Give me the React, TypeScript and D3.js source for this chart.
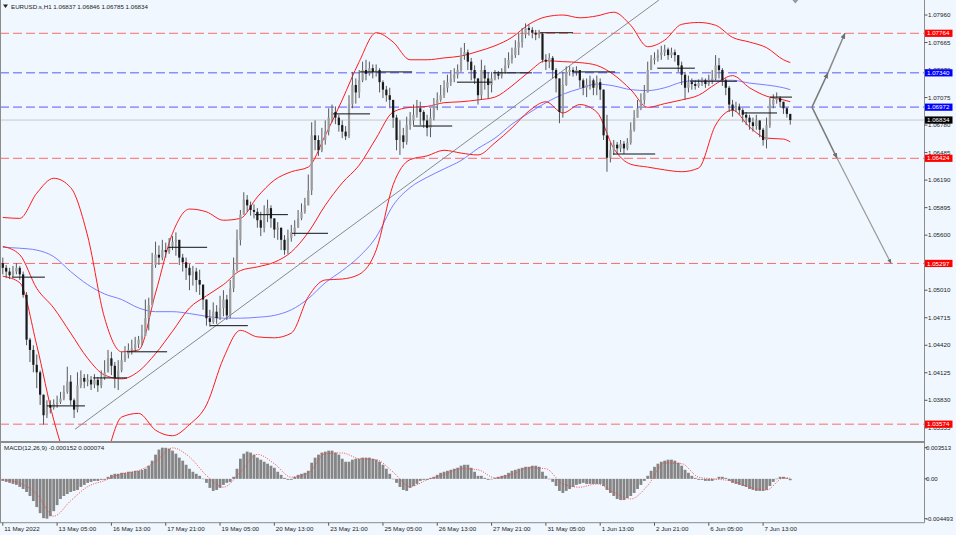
import React from 'react';
import * as d3 from 'd3';

// ---- chart values (H1 bars, two bars per candle) ----
const closes = [
  1.0525, 1.0521, 1.0517, 1.0521, 1.0525, 1.0518, 1.0496, 1.0448, 1.0437, 1.0421,
  1.0413, 1.0389, 1.0367, 1.0378, 1.0375, 1.0379, 1.0381, 1.0385, 1.0392, 1.0403,
  1.0383, 1.0373, 1.0399, 1.0407, 1.0403, 1.0405, 1.0400, 1.0405, 1.0399, 1.0407,
  1.0413, 1.0428, 1.0420, 1.0407, 1.0415, 1.0426, 1.0432, 1.0437, 1.0439, 1.0443,
  1.0448, 1.0452, 1.0471, 1.0485, 1.0528, 1.0539, 1.0536, 1.0544, 1.0542, 1.0548,
  1.0553, 1.0555, 1.0536, 1.0531, 1.0525, 1.0517, 1.0521, 1.0512, 1.0507, 1.0491,
  1.0471, 1.0467, 1.0478, 1.0471, 1.0482, 1.0491, 1.0474, 1.0503, 1.0523, 1.0555,
  1.0582, 1.0598, 1.0592, 1.0587, 1.0585, 1.0576, 1.0568, 1.0582, 1.0589, 1.0578,
  1.0566, 1.0568, 1.0555, 1.0544, 1.0557, 1.0563, 1.0568, 1.0578, 1.0585, 1.0592,
  1.0608, 1.0667, 1.0662, 1.0651, 1.0662, 1.0671, 1.0686, 1.0692, 1.0686, 1.0678,
  1.0671, 1.0666, 1.0700, 1.0721, 1.0713, 1.0726, 1.0737, 1.0733, 1.0739, 1.0735,
  1.0737, 1.0724, 1.0716, 1.0710, 1.0705, 1.0686, 1.0662, 1.0667, 1.0660, 1.0678,
  1.0683, 1.0689, 1.0696, 1.0692, 1.0683, 1.0675, 1.0686, 1.0700, 1.0705, 1.0710,
  1.0718, 1.0724, 1.0728, 1.0732, 1.0737, 1.0753, 1.0756, 1.0746, 1.0737, 1.0728,
  1.0710, 1.0737, 1.0728, 1.0721, 1.0728, 1.0733, 1.0731, 1.0735, 1.0742, 1.0748,
  1.0753, 1.0761, 1.0767, 1.0775, 1.0782, 1.0780, 1.0777, 1.0775, 1.0776, 1.0748,
  1.0746, 1.0750, 1.0737, 1.0728, 1.0692, 1.0721, 1.0735, 1.0737, 1.0735, 1.0737,
  1.0726, 1.0718, 1.0721, 1.0726, 1.0718, 1.0724, 1.0716, 1.0667, 1.0643, 1.0651,
  1.0657, 1.0653, 1.0658, 1.0653, 1.0659, 1.0673, 1.0686, 1.0696, 1.0705, 1.0713,
  1.0737, 1.0748, 1.0750, 1.0753, 1.0756, 1.0759, 1.0753, 1.0756, 1.0753, 1.0742,
  1.0732, 1.0718, 1.0724, 1.0722, 1.0720, 1.0723, 1.0726, 1.0722, 1.0726, 1.0728,
  1.0742, 1.0737, 1.0726, 1.0718, 1.0700, 1.0694, 1.0698, 1.0694, 1.0689, 1.0686,
  1.0681, 1.0677, 1.0683, 1.0673, 1.0662, 1.0678, 1.0700, 1.0705, 1.0707, 1.0703,
  1.0696, 1.0690, 1.06834,
];
const highs = [
  1.0536, 1.0528, 1.0525, 1.0527, 1.0530, 1.0527, 1.0521, 1.0499, 1.0450, 1.0442,
  1.0432, 1.0415, 1.0389, 1.0383, 1.0383, 1.0384, 1.0388, 1.0392, 1.0399, 1.0419,
  1.0410, 1.0385, 1.0413, 1.0415, 1.0411, 1.0411, 1.0409, 1.0411, 1.0408, 1.0415,
  1.0426, 1.0437, 1.0435, 1.0424, 1.0426, 1.0435, 1.0441, 1.0444, 1.0448, 1.0451,
  1.0452, 1.0464, 1.0491, 1.0493, 1.0541, 1.0553, 1.0549, 1.0555, 1.0552, 1.0557,
  1.0559, 1.0563, 1.0555, 1.0540, 1.0536, 1.0529, 1.0527, 1.0525, 1.0523, 1.0507,
  1.0491, 1.0480, 1.0488, 1.0485, 1.0495, 1.0501, 1.0496, 1.0512, 1.0536, 1.0566,
  1.0587, 1.0606, 1.0603, 1.0596, 1.0593, 1.0589, 1.0585, 1.0592, 1.0598, 1.0592,
  1.0578, 1.0574, 1.0568, 1.0560, 1.0566, 1.0571, 1.0576, 1.0587, 1.0594, 1.0600,
  1.0625, 1.0681, 1.0683, 1.0667, 1.0675, 1.0683, 1.0696, 1.0700, 1.0698, 1.0689,
  1.0683, 1.0677, 1.0710, 1.0735, 1.0728, 1.0737, 1.0746, 1.0748, 1.0746, 1.0743,
  1.0743, 1.0739, 1.0726, 1.0720, 1.0718, 1.0705, 1.0689, 1.0683, 1.0675, 1.0687,
  1.0692, 1.0700, 1.0705, 1.0703, 1.0694, 1.0689, 1.0696, 1.0707, 1.0713, 1.0721,
  1.0726, 1.0732, 1.0737, 1.0739, 1.0743, 1.0761, 1.0766, 1.0759, 1.0750, 1.0742,
  1.0726, 1.0748, 1.0742, 1.0735, 1.0735, 1.0737, 1.0736, 1.0739, 1.0750, 1.0756,
  1.0761, 1.0769, 1.0777, 1.0782, 1.0787, 1.0786, 1.0783, 1.0780, 1.0780, 1.0777,
  1.0754, 1.0755, 1.0752, 1.0739, 1.0724, 1.0735, 1.0741, 1.0741, 1.0740, 1.0741,
  1.0737, 1.0728, 1.0728, 1.0731, 1.0728, 1.0731, 1.0728, 1.0710, 1.0689, 1.0659,
  1.0662, 1.0660, 1.0662, 1.0661, 1.0664, 1.0681, 1.0694, 1.0705, 1.0712, 1.0721,
  1.0746, 1.0753, 1.0756, 1.0759, 1.0763, 1.0764, 1.0761, 1.0761, 1.0759, 1.0753,
  1.0746, 1.0735, 1.0731, 1.0728, 1.0726, 1.0727, 1.0729, 1.0728, 1.0732, 1.0737,
  1.0753, 1.0750, 1.0739, 1.0728, 1.0720, 1.0705, 1.0703, 1.0701, 1.0696, 1.0692,
  1.0689, 1.0686, 1.0689, 1.0683, 1.0675, 1.0686, 1.0707, 1.0711, 1.0713, 1.0709,
  1.0703, 1.0697, 1.06846,
];
const lows = [
  1.0518, 1.0514, 1.0513, 1.0515, 1.0518, 1.0512, 1.0493, 1.0442, 1.0424, 1.0413,
  1.0396, 1.0378, 1.0357, 1.0364, 1.0369, 1.0373, 1.0375, 1.0379, 1.0383, 1.0390,
  1.0378, 1.0364, 1.0370, 1.0396, 1.0396, 1.0398, 1.0394, 1.0396, 1.0392, 1.0396,
  1.0405, 1.0413, 1.0410, 1.0396, 1.0394, 1.0413, 1.0424, 1.0428, 1.0432, 1.0435,
  1.0439, 1.0442, 1.0454, 1.0458, 1.0485, 1.0525, 1.0528, 1.0533, 1.0536, 1.0540,
  1.0544, 1.0538, 1.0528, 1.0521, 1.0512, 1.0501, 1.0506, 1.0499, 1.0496, 1.0480,
  1.0463, 1.0462, 1.0465, 1.0465, 1.0469, 1.0473, 1.0469, 1.0471, 1.0499, 1.0521,
  1.0549, 1.0582, 1.0585, 1.0581, 1.0578, 1.0568, 1.0559, 1.0563, 1.0574, 1.0568,
  1.0557, 1.0555, 1.0544, 1.0539, 1.0540, 1.0553, 1.0559, 1.0568, 1.0576, 1.0583,
  1.0592, 1.0603, 1.0651, 1.0645, 1.0649, 1.0657, 1.0667, 1.0681, 1.0679, 1.0671,
  1.0664, 1.0662, 1.0664, 1.0696, 1.0701, 1.0707, 1.0724, 1.0726, 1.0731, 1.0728,
  1.0730, 1.0713, 1.0707, 1.0703, 1.0696, 1.0675, 1.0651, 1.0646, 1.0653, 1.0657,
  1.0673, 1.0678, 1.0686, 1.0678, 1.0675, 1.0666, 1.0665, 1.0683, 1.0694, 1.0703,
  1.0707, 1.0713, 1.0720, 1.0724, 1.0728, 1.0735, 1.0748, 1.0737, 1.0726, 1.0722,
  1.0700, 1.0705, 1.0716, 1.0707, 1.0713, 1.0726, 1.0727, 1.0728, 1.0733, 1.0739,
  1.0744, 1.0750, 1.0753, 1.0761, 1.0771, 1.0774, 1.0771, 1.0769, 1.0771, 1.0745,
  1.0737, 1.0739, 1.0728, 1.0713, 1.0680, 1.0686, 1.0720, 1.0731, 1.0730, 1.0731,
  1.0718, 1.0710, 1.0708, 1.0716, 1.0710, 1.0710, 1.0705, 1.0662, 1.0628, 1.0638,
  1.0646, 1.0648, 1.0649, 1.0647, 1.0651, 1.0657, 1.0671, 1.0686, 1.0694, 1.0700,
  1.0713, 1.0737, 1.0743, 1.0746, 1.0748, 1.0752, 1.0748, 1.0750, 1.0746, 1.0735,
  1.0721, 1.0705, 1.0713, 1.0716, 1.0716, 1.0718, 1.0720, 1.0718, 1.0720, 1.0722,
  1.0726, 1.0728, 1.0720, 1.0710, 1.0692, 1.0687, 1.0692, 1.0689, 1.0681, 1.0678,
  1.0673, 1.0671, 1.0673, 1.0665, 1.0656, 1.0653, 1.0675, 1.0696, 1.0701, 1.0697,
  1.0690, 1.0686, 1.06785,
];
const firstOpen = 1.0530;

const macdHist = [
  -0.00023, -0.00034, -0.00045, -0.00057, -0.00068, -0.00091, -0.00114, -0.00148, -0.00193, -0.0025,
  -0.00318, -0.00387, -0.00443, -0.004493, -0.00421, -0.00364, -0.00296, -0.00227, -0.00193, -0.00171,
  -0.00148, -0.00136, -0.00125, -0.00091, -0.00068, -0.00045, -0.00034, -0.00023, -0.00023, -0.00011,
  -0.00011, 0.00023, 0.00045, 0.00057, 0.00057, 0.00068, 0.00068, 0.0008, 0.0008, 0.00091,
  0.00091, 0.00102, 0.00114, 0.00148, 0.00205, 0.00273, 0.0033, 0.003513, 0.0035, 0.00341,
  0.00318, 0.00284, 0.00239, 0.00205, 0.00159, 0.00114, 0.0008, 0.00057, 0.00034, 0.00002,
  -0.00045, -0.00102, -0.00136, -0.00125, -0.00102, -0.00068, -0.00045, -0.00034, 0.00023, 0.00114,
  0.00227, 0.00284, 0.00307, 0.00296, 0.00273, 0.00239, 0.00216, 0.00193, 0.00171, 0.00148,
  0.00125, 0.0008, 0.00045, 0.00011, -0.00011, -0.00011, 0.00023, 0.00045, 0.00057, 0.00068,
  0.00091, 0.00182, 0.00239, 0.00273, 0.00296, 0.00307, 0.00318, 0.00318, 0.00296, 0.00273,
  0.00227, 0.00193, 0.00193, 0.00216, 0.00227, 0.00227, 0.00239, 0.00239, 0.00239, 0.00227,
  0.00216, 0.00193, 0.00159, 0.00114, 0.00057, 0.00001, -0.00045, -0.00091, -0.00125, -0.00136,
  -0.00102, -0.0008, -0.00057, -0.00023, -0.00011, -0.00011, 0.00011, 0.00023, 0.00045, 0.00068,
  0.0008, 0.00091, 0.00102, 0.00114, 0.00125, 0.00148, 0.00159, 0.00159, 0.00125, 0.0008,
  0.00034, 0.00034, 0.00011, -0.00011, -0.00002, 0.00011, 0.00023, 0.00034, 0.00045, 0.00068,
  0.00091, 0.00102, 0.00114, 0.00125, 0.00136, 0.00136, 0.00148, 0.00148, 0.00136, 0.0008,
  0.00034, 0.00001, -0.00034, -0.0008, -0.00136, -0.00159, -0.00136, -0.00114, -0.00091, -0.00068,
  -0.00057, -0.00045, -0.00057, -0.00057, -0.00057, -0.00057, -0.00057, -0.0008, -0.00125, -0.00159,
  -0.00193, -0.00227, -0.00239, -0.00239, -0.00216, -0.00193, -0.00159, -0.00114, -0.00068, -0.00023,
  0.00034, 0.00091, 0.00136, 0.00171, 0.00193, 0.00205, 0.00216, 0.00216, 0.00205, 0.00182,
  0.00148, 0.00102, 0.00068, 0.00034, 0.00011, -0.00011, -0.00011, -0.00023, -0.00023, -0.00023,
  -0.00003, 0.00023, 0.00023, 0.00011, -0.00023, -0.00045, -0.00057, -0.00068, -0.0008, -0.00091,
  -0.00114, -0.00125, -0.00136, -0.00136, -0.00136, -0.00125, -0.0008, -0.00034, 0.00002, 0.00023,
  0.00023, 0.00011, -0.000152,
];

// indicator lines, sampled every 5 candles
const bandBars = [
  0, 5, 10, 15, 20, 25, 30, 35, 40, 45, 50, 55, 60, 65, 70, 75, 80, 85, 90, 95, 100, 105, 110, 115,
  120, 125, 130, 135, 140, 145, 150, 155, 160, 165, 170, 175, 180, 185, 190, 195, 200, 205, 210, 215,
  220, 225, 230, 232,
];
const upperBand = [
  1.0579, 1.0578, 1.0605, 1.0621, 1.0611, 1.0559, 1.0471, 1.0435, 1.0437, 1.0498, 1.0562, 1.0588,
  1.0585, 1.0576, 1.0578, 1.0601, 1.0619, 1.0628, 1.0633, 1.0667, 1.0705, 1.0746, 1.0777, 1.0767,
  1.0748, 1.0748, 1.0750, 1.0752, 1.0757, 1.0763, 1.0772, 1.0786, 1.0794, 1.0796, 1.0793, 1.0795,
  1.0799, 1.0785, 1.0762, 1.0769, 1.0786, 1.0788, 1.0785, 1.0772, 1.0767, 1.0761, 1.0748, 1.0745,
];
const midBand = [
  1.0548, 1.0539, 1.0503, 1.0482, 1.0455, 1.0428, 1.0410, 1.0406, 1.0414, 1.0433, 1.0457, 1.0482,
  1.0495, 1.0507, 1.0522, 1.0526, 1.0531, 1.0542, 1.0563, 1.0592, 1.0616, 1.0635, 1.0664, 1.0692,
  1.0697, 1.0698, 1.0702, 1.0703, 1.0705, 1.0708, 1.0720, 1.0735, 1.0747, 1.0746, 1.0745, 1.0742,
  1.0732, 1.0716, 1.0697, 1.0701, 1.0705, 1.0710, 1.0722, 1.0731, 1.0718, 1.0709, 1.0705, 1.0703,
];
const lowerBand = [
  1.0516, 1.0509, 1.0442, 1.0362, 1.0308, 1.0287, 1.0319, 1.0365, 1.0369, 1.0351, 1.0345, 1.0357,
  1.0378, 1.0428, 1.0458, 1.0451, 1.0450, 1.0455, 1.0494, 1.0512, 1.0513, 1.0518, 1.0544, 1.0614,
  1.0641, 1.0645, 1.0651, 1.0648, 1.0646, 1.0659, 1.0675, 1.0693, 1.0703, 1.0691, 1.0700, 1.0692,
  1.0653, 1.0636, 1.0633, 1.0630, 1.0628, 1.0632, 1.0678, 1.0694, 1.0676, 1.0664, 1.0663, 1.0660,
];
const maLine = [
  1.0547, 1.0546, 1.0544, 1.0537, 1.0521, 1.0507, 1.0497, 1.0491, 1.0482, 1.0478, 1.0478, 1.0476,
  1.0473, 1.0471, 1.0471, 1.0472, 1.0474, 1.0480, 1.0492, 1.0509, 1.0522, 1.0537, 1.0558, 1.0592,
  1.0611, 1.0622, 1.0631, 1.0640, 1.0653, 1.0664, 1.0679, 1.0691, 1.0702, 1.0711, 1.0717, 1.0722,
  1.0720, 1.0716, 1.0715, 1.0718, 1.0724, 1.0726, 1.0726, 1.0726, 1.0723, 1.0721, 1.0718, 1.0716,
];
const macdSignal = [
  -0.0001, -0.00049, -0.00171, -0.00421, -0.00247, -0.00088, -0.00019, 0.00057, 0.00094, 0.00193,
  0.00349, 0.00247, 0.00038, -0.00094, 0.00076, 0.00276, 0.00171, 0.00019, 0.00065, 0.00284,
  0.00292, 0.00227, 0.00216, 0.00076, -0.00088, -0.00011, 0.00049, 0.00114, 0.00102, 0.00011,
  0.00049, 0.00125, 0.00114, -0.00057, -0.00094, -0.00057, -0.00151, -0.00227, -0.00076, 0.00179,
  0.00171, 0.00019, -0.00003, -0.00026, -0.00094, -0.00125, 0.00011, 0.000074,
];

// short black level segments: [from candle, to candle, price]
const levelSegments = [
  [2.7, 12.4, 1.0515], [13, 24.2, 1.0377], [26.6, 36.6, 1.0407], [36.6, 48.4, 1.0435],
  [48.7, 60.2, 1.0547], [61, 72.2, 1.0463], [74.3, 84, 1.0582], [85.2, 95.8, 1.0562],
  [97.3, 108.2, 1.069], [105.2, 120.6, 1.0735], [120.9, 132.4, 1.0677], [133.8, 144.1, 1.0724],
  [144.4, 155.9, 1.0734], [158.3, 168, 1.0777], [168, 180.4, 1.0735], [179.8, 192.2, 1.0647],
  [192.8, 203.9, 1.0739], [202.5, 216.3, 1.0725], [218, 228.1, 1.0691], [226, 232.5, 1.0708],
];

const redLevels = [1.07764, 1.06424, 1.05297, 1.03574];
const blueLevel = 1.0734;
const pivotLevel = 1.06972;
const currentPrice = 1.06834;

const trendLine = [[21.3, 1.0352], [193.3, 1.0812]];
const upArrow = [[238.4, 1.06972], [243.1, 1.0734], [248.1, 1.07764]];
const downArrow = [[238.4, 1.06972], [245.8, 1.06424], [261.7, 1.05297]];

const priceTicks = [
  1.0796, 1.07665, 1.0737, 1.07075, 1.0678, 1.06485, 1.0619, 1.05895, 1.056, 1.05305,
  1.0501, 1.04715, 1.0442, 1.04125, 1.0383, 1.03535,
];
const macdTicks = [0.003513, 0, -0.004493];
const macdTickLabels = ['0.003513', '0.00', '-0.004493'];
const timeLabels = [
  '11 May 2022', '13 May 05:00', '16 May 13:00', '17 May 21:00', '19 May 05:00', '20 May 13:00',
  '23 May 21:00', '25 May 05:00', '26 May 13:00', '27 May 21:00', '31 May 05:00', '1 Jun 13:00',
  '2 Jun 21:00', '6 Jun 05:00', '7 Jun 13:00',
];
const timeLabelBars = [0, 16, 32, 48, 64, 80, 96, 112, 128, 144, 160, 176, 192, 208, 224];

// ---- layout ----
const W = 956;
const H = 535;
const AXIS_X = 924.5;
const MAIN_BOTTOM = 442;
const MACD_BOTTOM = 522.7;
const BG = '#F0F7FE';
const FONT = '"Liberation Sans", Arial, sans-serif';

export default function App() {
  const x = d3.scaleLinear().domain([-0.825, 271.4]).range([0, AXIS_X - 0.5]);
  const y = d3.scaleLinear().domain([1.0796, 1.0383]).range([15, 400.3]);
  const ym = d3.scaleLinear().domain([0.003513, -0.004493]).range([447.7, 518.7]);

  const sampled = (vals: number[], sy: (v: number) => number) =>
    d3.line<number>()
      .x((_, i) => x(bandBars[i]))
      .y(d => sy(d))
      .curve(d3.curveMonotoneX)(vals) || '';

  const polyline = (pts: number[][]) => d3.line<number[]>().x(p => x(p[0])).y(p => y(p[1]))(pts) || '';

  const candles = closes.map((c, i) => {
    const o = i === 0 ? firstOpen : closes[i - 1];
    const hi = Math.max(highs[i], o, c);
    const lo = Math.min(lows[i], o, c);
    const cx = x(i);
    const top = y(Math.max(o, c));
    const bot = y(Math.min(o, c));
    const bull = c >= o;
    return (
      <g key={i}>
        <line x1={cx} x2={cx} y1={y(hi)} y2={y(lo)} stroke="#585858" strokeWidth={1} />
        <rect x={cx - 1.1} width={2.2} y={top} height={Math.max(bot - top, 0.8)}
          fill={bull ? '#9c9c9c' : '#1a1a1a'} />
      </g>
    );
  });

  const boxLabel = (price: number, fill: string, key: string) => (
    <g key={key}>
      <rect x={AXIS_X + 0.5} y={y(price) - 3.6} width={27.5} height={7.2} fill={fill} />
      <text x={AXIS_X + 2.5} y={y(price)} dy="0.35em" fontSize={6.2} fill="#fff" fontFamily={FONT}>
        {price.toFixed(5)}
      </text>
    </g>
  );

  return (
    <div style={{ position: 'absolute', left: 0, top: 0 }}>
      <svg width={W} height={H} style={{ display: 'block', background: BG }}>
        <defs>
          <clipPath id="mainClip"><rect x={1} y={0} width={AXIS_X - 1} height={MAIN_BOTTOM - 1} /></clipPath>
          <clipPath id="macdClip"><rect x={1} y={443} width={AXIS_X - 1} height={MACD_BOTTOM - 443} /></clipPath>
          <marker id="ah" viewBox="0 0 10 10" refX={9} refY={5} markerWidth={4} markerHeight={4} orient="auto">
            <path d="M0,1 L10,5 L0,9 z" fill="#707070" />
          </marker>
        </defs>

        {/* main panel */}
        <g clipPath="url(#mainClip)">
          {redLevels.map(p => (
            <line key={p} x1={0} x2={AXIS_X} y1={y(p)} y2={y(p)} stroke="#ff6a6a" strokeDasharray="9 4" />
          ))}
          <line x1={0} x2={AXIS_X} y1={y(blueLevel)} y2={y(blueLevel)} stroke="#5a5aff" strokeDasharray="9 4" />
          <line x1={0} x2={AXIS_X} y1={y(pivotLevel)} y2={y(pivotLevel)} stroke="#9a9aff" strokeWidth={1.6} strokeDasharray="9 4" />
          <line x1={0} x2={AXIS_X} y1={y(currentPrice)} y2={y(currentPrice)} stroke="#c8c8c8" />

          <path d={polyline(trendLine)} stroke="#8a8a8a" fill="none" />

          <path d={sampled(maLine, y)} stroke="#6f6fff" fill="none" strokeWidth={0.9} />
          <path d={sampled(upperBand, y)} stroke="#ff1a1a" fill="none" strokeWidth={1} />
          <path d={sampled(midBand, y)} stroke="#ff1a1a" fill="none" strokeWidth={1} />
          <path d={sampled(lowerBand, y)} stroke="#ff1a1a" fill="none" strokeWidth={1} />

          {candles}

          {levelSegments.map((s, i) => (
            <line key={i} x1={x(s[0])} x2={x(s[1])} y1={y(s[2])} y2={y(s[2])} stroke="#111" strokeWidth={1} />
          ))}

          <line x1={x(upArrow[0][0])} y1={y(upArrow[0][1])} x2={x(upArrow[1][0])} y2={y(upArrow[1][1])}
            stroke="#7a7a7a" strokeWidth={1.5} markerEnd="url(#ah)" />
          <line x1={x(upArrow[1][0])} y1={y(upArrow[1][1])} x2={x(upArrow[2][0])} y2={y(upArrow[2][1])}
            stroke="#8a8a8a" strokeWidth={1.5} markerEnd="url(#ah)" />
          <line x1={x(downArrow[0][0])} y1={y(downArrow[0][1])} x2={x(downArrow[1][0])} y2={y(downArrow[1][1])}
            stroke="#7a7a7a" strokeWidth={1.5} markerEnd="url(#ah)" />
          <line x1={x(downArrow[1][0])} y1={y(downArrow[1][1])} x2={x(downArrow[2][0])} y2={y(downArrow[2][1])}
            stroke="#999" strokeWidth={1.2} markerEnd="url(#ah)" />
        </g>

        {/* title */}
        <path d="M3,4.5 L8,4.5 L5.5,8 z" fill="#222" />
        <text x={11} y={9} fontSize={6.2} fill="#222" fontFamily={FONT}>
          EURUSD.s,H1  1.06837 1.06846 1.06785 1.06834
        </text>
        <path d={`M${x(233.5) - 3},0 L${x(233.5) + 3},0 L${x(233.5)},3.5 z`} fill="#9a9a9a" />

        {/* MACD panel */}
        <g clipPath="url(#macdClip)">
          {macdHist.map((v, i) => (
            <rect key={i} x={x(i) - 1.4} width={2.8} y={Math.min(ym(v), ym(0))}
              height={Math.max(Math.abs(ym(v) - ym(0)), 0.5)} fill="#858585" />
          ))}
          <path d={sampled(macdSignal, ym)} stroke="#ff3c3c" fill="none" strokeWidth={0.9} strokeDasharray="1 1.4" />
        </g>
        <text x={4} y={449.5} fontSize={6.2} fill="#222" fontFamily={FONT}>
          MACD(12,26,9) -0.000152 0.000074
        </text>

        {/* frame */}
        <line x1={0.5} x2={0.5} y1={0} y2={MACD_BOTTOM} stroke="#8c8c8c" />
        <line x1={0} x2={AXIS_X} y1={MAIN_BOTTOM} y2={MAIN_BOTTOM} stroke="#8c8c8c" strokeWidth={2} />
        <line x1={0} x2={AXIS_X} y1={MACD_BOTTOM} y2={MACD_BOTTOM} stroke="#8c8c8c" />
        <line x1={AXIS_X} x2={AXIS_X} y1={0} y2={MACD_BOTTOM} stroke="#8c8c8c" />

        {/* price axis */}
        {priceTicks.map(p => (
          <g key={p}>
            <line x1={AXIS_X} x2={AXIS_X + 3} y1={y(p)} y2={y(p)} stroke="#555" />
            <text x={AXIS_X + 3.5} y={y(p)} dy="0.35em" fontSize={6.2} fill="#222" fontFamily={FONT}>
              {p.toFixed(5)}
            </text>
          </g>
        ))}
        {macdTicks.map((v, i) => (
          <g key={v}>
            <line x1={AXIS_X} x2={AXIS_X + 3} y1={ym(v)} y2={ym(v)} stroke="#555" />
            <text x={AXIS_X + 1.5} y={ym(v)} dy="0.35em" fontSize={6} fill="#222" fontFamily={FONT}>
              {macdTickLabels[i]}
            </text>
          </g>
        ))}
        {redLevels.slice(0, 1).map(p => boxLabel(p, '#ff0000', 'r0'))}
        {boxLabel(blueLevel, '#0000ff', 'b')}
        {boxLabel(pivotLevel, '#0000ff', 'p')}
        {boxLabel(currentPrice, '#000000', 'c')}
        {redLevels.slice(1).map((p, i) => boxLabel(p, '#ff0000', 'r' + (i + 1)))}

        {/* time axis */}
        {timeLabels.map((t, i) => (
          <g key={t}>
            <line x1={x(timeLabelBars[i])} x2={x(timeLabelBars[i])} y1={MACD_BOTTOM} y2={MACD_BOTTOM + 3} stroke="#555" />
            <text x={x(timeLabelBars[i]) + 1.5} y={530.5} fontSize={6.2} fill="#222" fontFamily={FONT}>{t}</text>
          </g>
        ))}
      </svg>
    </div>
  );
}
